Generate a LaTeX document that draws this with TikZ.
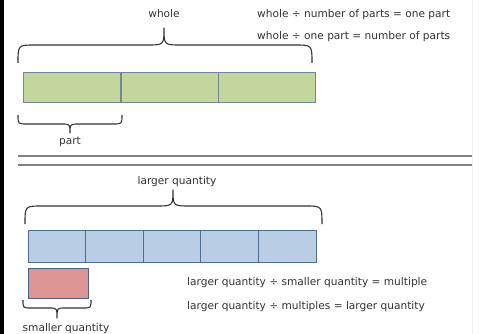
\documentclass[tikz,border=0pt]{standalone}
\usepackage{fontspec}
\setmainfont{DejaVu Sans}
\definecolor{greenfill}{RGB}{195,214,155}
\definecolor{greenline}{RGB}{112,136,150}
\definecolor{bluefill}{RGB}{185,205,229}
\definecolor{blueline}{RGB}{80,108,146}
\definecolor{redfill}{RGB}{221,148,148}
\definecolor{redline}{RGB}{76,98,128}
\definecolor{ink}{RGB}{50,50,50}
\definecolor{rule}{RGB}{128,128,128}
\begin{document}
\begin{tikzpicture}[x=1pt,y=-1pt,
  lbl/.style={font=\fontsize{10.6}{12}\selectfont,text=ink,inner sep=0pt},
  eqn/.style={lbl,anchor=west},
  gcell/.style={draw=greenline,fill=greenfill,line width=1pt,minimum width=97pt,minimum height=30pt,inner sep=0pt},
  bcell/.style={draw=blueline,fill=bluefill,line width=1pt,minimum width=57.6pt,minimum height=32pt,inner sep=0pt},
  rcell/.style={draw=redline,fill=redfill,line width=1pt,minimum width=60pt,minimum height=30pt,inner sep=0pt},
  bracepath/.style={draw=ink,line width=1.1pt,line join=round}]
\useasboundingbox (0,0) rectangle (479,334);
\fill[white] (0,0) rectangle (479,334);
% frame edges
\fill[black] (0,0) rectangle (4,334);
\draw[gray!15,line width=0.8pt] (472,0) -- (472,334);

% brace macro: ends x1,x2 at height ye, bar at ym, tip at (xt,yt), curl radius r
\newcommand{\curlybrace}[7]{%
  \draw[bracepath] (#1,#4) .. controls (#1,#5) and (#1,#5) .. ({#1+#7},#5)
    -- ({#3-#7},#5) .. controls (#3,#5) and (#3,#5) .. (#3,#6)
    .. controls (#3,#5) and (#3,#5) .. ({#3+#7},#5)
    -- ({#2-#7},#5) .. controls (#2,#5) and (#2,#5) .. (#2,#4);}

% ---- upper panel: whole and parts ----
\node[gcell] (g1) at (72,88) {};
\node[gcell] (g2) at (169.5,88) {};
\node[gcell] (g3) at (266.5,88) {};
\curlybrace{18}{312}{164}{63}{45}{28}{17}
\node[lbl] (whole) at (164,14) {whole};
\curlybrace{18}{122}{70}{115}{124}{133}{9}
\node[lbl] (part) at (70,142) {part};
\node[eqn] (e1) at (257,15) {whole ÷ number of parts = one part};
\node[eqn] (e2) at (257,37) {whole ÷ one part = number of parts};

% double separating rule
\draw[rule,line width=2pt] (18,156) -- (472,156);
\draw[rule,line width=2pt] (18,165) -- (472,165);

% ---- lower panel: larger and smaller quantity ----
\foreach \i in {0,...,4}{
  \node[bcell] (b\i) at ({28+57.6*\i+28.8},246) {};
}
\node[rcell] (r) at (58,283) {};
\curlybrace{25}{322}{173}{224}{206}{190}{17}
\node[lbl] (larger) at (177,182) {larger quantity};
\curlybrace{23}{91}{57}{300}{308}{318}{8}
\node[lbl] (smaller) at (66,329) {smaller quantity};
\node[eqn] (e3) at (187,283) {larger quantity ÷ smaller quantity = multiple};
\node[eqn] (e4) at (187,307) {larger quantity ÷ multiples = larger quantity};
\end{tikzpicture}
\end{document}
